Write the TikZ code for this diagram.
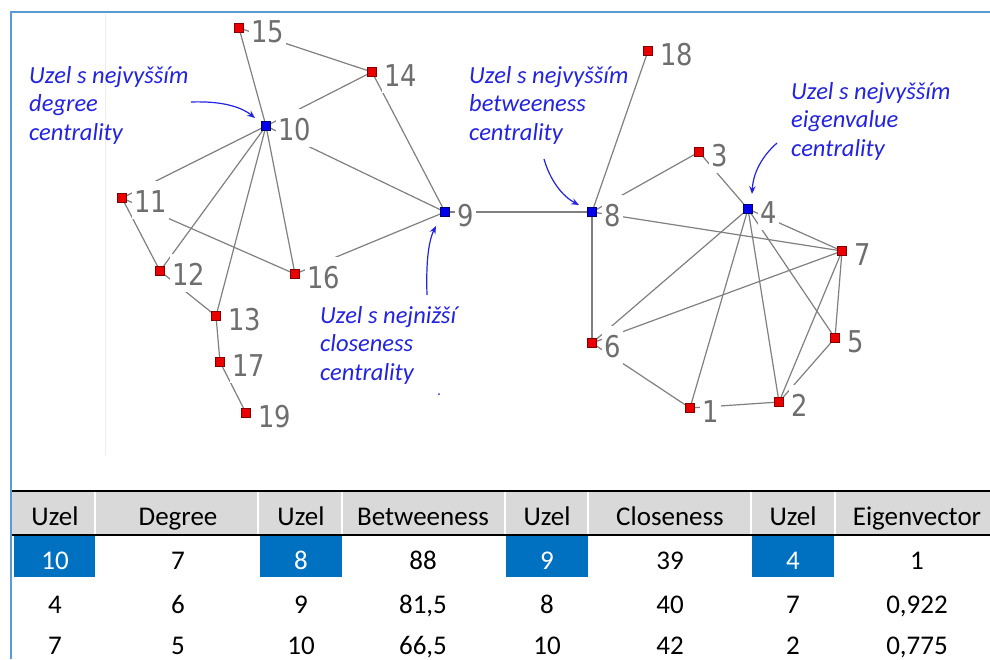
\documentclass[tikz,border=0pt]{standalone}
\usepackage{fontspec}
\setmainfont{Carlito}
\newfontfamily\lblfont[FakeStretch=0.86]{DejaVu Sans}
\usetikzlibrary{arrows.meta}
\definecolor{framecol}{RGB}{91,155,213}
\definecolor{edgecol}{RGB}{128,128,128}
\definecolor{lblcol}{RGB}{110,110,110}
\definecolor{noteblue}{RGB}{35,35,225}
\definecolor{vred}{RGB}{235,0,0}
\definecolor{vblue}{RGB}{0,0,235}
\definecolor{headgray}{RGB}{217,217,217}
\definecolor{cellblue}{RGB}{0,112,192}
\begin{document}
\begin{tikzpicture}[x=1pt,y=-1pt,
  redv/.style={rectangle, draw=vred!55!black, fill=vred, line width=0.6pt, minimum size=9.5pt, inner sep=0pt},
  bluev/.style={rectangle, draw=vblue!50!black, fill=vblue, line width=0.6pt, minimum size=9.5pt, inner sep=0pt},
  lbl/.style={anchor=base west, fill=white, inner xsep=2pt, inner ysep=0pt, text height=31pt, text depth=7pt,
              text=lblcol, font=\lblfont\fontsize{30}{30}\selectfont, xshift=10pt, yshift=-14pt},
  edge/.style={draw=edgecol, line width=1.2pt},
  note/.style={anchor=base west, inner sep=0pt, text=noteblue, font=\itshape\fontsize{24.5}{28}\selectfont},
  notearrow/.style={draw=noteblue, line width=1.2pt, -{Stealth[length=8pt, width=6.5pt, inset=3pt]}},
  th/.style={anchor=base, inner sep=0pt, font=\fontsize{27}{30}\selectfont},
  td/.style={anchor=base, inner sep=0pt, font=\fontsize{27}{30}\selectfont},
  tdw/.style={td, text=white}]
\useasboundingbox (0,0) rectangle (990,659);
\clip (0,0) rectangle (990,659);
\fill[white] (0,0) rectangle (990,659);
% faint page line
\draw[black!7, line width=1pt] (105,14) -- (105,455);

% vertex positions
\coordinate (n1) at (690,408);
\coordinate (n2) at (779,402);
\coordinate (n3) at (699,152);
\coordinate (n4) at (748,209);
\coordinate (n5) at (835,338);
\coordinate (n6) at (592,343);
\coordinate (n7) at (842,251);
\coordinate (n8) at (592,212);
\coordinate (n9) at (445,212);
\coordinate (n10) at (266,126);
\coordinate (n11) at (122,198);
\coordinate (n12) at (160,271);
\coordinate (n13) at (216,316);
\coordinate (n14) at (372,72);
\coordinate (n15) at (239,28);
\coordinate (n16) at (295,274);
\coordinate (n17) at (220,362);
\coordinate (n18) at (648,51);
\coordinate (n19) at (246,413);

% edges
\foreach \a/\b in {15/10,15/14,14/10,14/9,10/9,10/11,10/12,10/13,10/16,11/12,11/16,12/13,16/9,13/17,17/19,9/8,
                   8/18,8/3,8/6,8/7,3/4,4/7,4/6,4/1,4/2,4/5,7/6,7/2,7/5,6/1,1/2,2/5}
  \draw[edge] (n\a) -- (n\b);

% labels
\foreach \i in {1,...,19}
  \node[lbl] (l\i) at (n\i) {\i};

% vertices
\foreach \i in {1,2,3,5,6,7,11,12,13,14,15,16,17,18,19}
  \node[redv] (v\i) at (n\i) {};
\foreach \i in {4,8,9,10}
  \node[bluev] (v\i) at (n\i) {};

% frame (on top of label boxes)
\draw[framecol, line width=2pt] (11,659) -- (11,12) -- (990,12);

% annotations
\node[note] (d1) at (29,83) {Uzel s nejvyšším};
\node[note] (d2) at (29,111.5) {degree};
\node[note] (d3) at (29,140) {centrality};
\node[note] (b1) at (469,83) {Uzel s nejvyšším};
\node[note] (b2) at (469,111.5) {betweeness};
\node[note] (b3) at (469,140) {centrality};
\node[note] (e1) at (791,99) {Uzel s nejvyšším};
\node[note] (e2) at (791,127.5) {eigenvalue};
\node[note] (e3) at (791,156) {centrality};
\node[note] (c1) at (320,323) {Uzel s nejnižší};
\node[note] (c2) at (320,351.5) {closeness};
\node[note] (c3) at (320,380) {centrality};
\fill[noteblue] (439,394) circle (1pt);

\coordinate (a1s) at (191,102); \coordinate (a1e) at (255,118);
\coordinate (a2s) at (427,295); \coordinate (a2e) at (436,226);
\coordinate (a3s) at (544,159); \coordinate (a3e) at (579,205);
\coordinate (a4s) at (777,143); \coordinate (a4e) at (752,194);
\draw[notearrow] (a1s) .. controls (220,101) and (240,106) .. (a1e);
\draw[notearrow] (a2s) .. controls (426,265) and (428,242) .. (a2e);
\draw[notearrow] (a3s) .. controls (550,180) and (562,196) .. (a3e);
\draw[notearrow] (a4s) .. controls (760,158) and (753,175) .. (a4e);

% table
\fill[headgray] (12,491) rectangle (990,535);
\foreach \x in {95,258,342,505,588,751,835}
  \draw[white, line width=2pt] (\x,491) -- (\x,535);
\draw[black, line width=1.8pt] (12,491) -- (990,491);
\draw[black, line width=1.8pt] (12,535) -- (990,535);
\fill[cellblue] (14,536) rectangle (95,577);
\fill[cellblue] (260,536) rectangle (342,577);
\fill[cellblue] (506,536) rectangle (588,577);
\fill[cellblue] (752,536) rectangle (834,577);

\node[th] (h1) at (55,525) {Uzel};
\node[th] (h2) at (178,525) {Degree};
\node[th] (h3) at (301,525) {Uzel};
\node[th] (h4) at (423,525) {Betweeness};
\node[th] (h5) at (547,525) {Uzel};
\node[th] (h6) at (670,525) {Closeness};
\node[th] (h7) at (793,525) {Uzel};
\node[th] (h8) at (917,525) {Eigenvector};

\node[tdw] (r11) at (55,569) {10};
\node[td] (r12) at (178,569) {7};
\node[tdw] (r13) at (301,569) {8};
\node[td] (r14) at (423,569) {88};
\node[tdw] (r15) at (547,569) {9};
\node[td] (r16) at (670,569) {39};
\node[tdw] (r17) at (793,569) {4};
\node[td] (r18) at (917,569) {1};

\node[td] (r21) at (55,613) {4};
\node[td] (r22) at (178,613) {6};
\node[td] (r23) at (301,613) {9};
\node[td] (r24) at (423,613) {81,5};
\node[td] (r25) at (547,613) {8};
\node[td] (r26) at (670,613) {40};
\node[td] (r27) at (793,613) {7};
\node[td] (r28) at (917,613) {0,922};

\node[td] (r31) at (55,654) {7};
\node[td] (r32) at (178,654) {5};
\node[td] (r33) at (301,654) {10};
\node[td] (r34) at (423,654) {66,5};
\node[td] (r35) at (547,654) {10};
\node[td] (r36) at (670,654) {42};
\node[td] (r37) at (793,654) {2};
\node[td] (r38) at (917,654) {0,775};
\end{tikzpicture}
\end{document}
